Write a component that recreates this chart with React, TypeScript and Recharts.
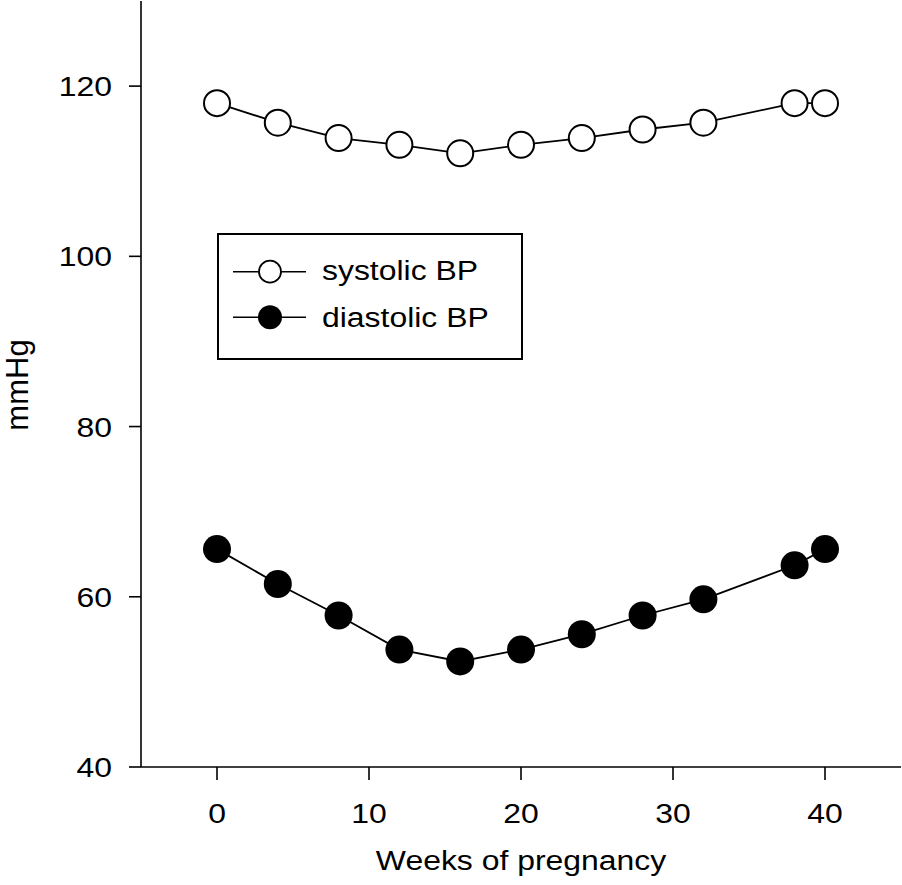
import React from 'react';
import { LineChart, Line, XAxis, YAxis, Legend } from 'recharts';

const weeks = [0, 4, 8, 12, 16, 20, 24, 28, 32, 38, 40];
const systolic = [118, 115.7, 113.9, 113.1, 112.1, 113.1, 113.9, 114.9, 115.7, 118, 118];
const diastolic = [65.6, 61.5, 57.8, 53.8, 52.4, 53.8, 55.6, 57.8, 59.7, 63.7, 65.6];
const xTicks = [0, 10, 20, 30, 40];
const yTicks = [40, 60, 80, 100, 120];
const seriesNames = ['systolic BP', 'diastolic BP'];
const xLabel = 'Weeks of pregnancy';
const yLabel = 'mmHg';

const data = weeks.map((w, i) => ({ week: w, systolic: systolic[i], diastolic: diastolic[i] }));

const FONT = '"Liberation Sans", Arial, Helvetica, sans-serif';
const SX = 1.14;
const FS = 28;

const YTick = (props: any) => {
  const { x, y, payload } = props;
  return (
    <text transform={`translate(${x},${y + 10}) scale(${SX},1)`} textAnchor="end" fontSize={FS} fontFamily={FONT} fill="#000">
      {payload.value}
    </text>
  );
};

const XTick = (props: any) => {
  const { x, y, payload } = props;
  return (
    <text transform={`translate(${x},${y + 20}) scale(${SX},1)`} textAnchor="middle" fontSize={FS} fontFamily={FONT} fill="#000">
      {payload.value}
    </text>
  );
};

const XLabel = (props: any) => {
  const vb = props.viewBox || {};
  const cx = (vb.x ?? 141) + (vb.width ?? 760) / 2;
  const by = (vb.y ?? 767) + 103;
  return (
    <text transform={`translate(${cx},${by}) scale(${SX},1)`} textAnchor="middle" fontSize={FS} fontFamily={FONT} fill="#000">
      {xLabel}
    </text>
  );
};

const YLabel = (props: any) => {
  const vb = props.viewBox || {};
  const cy = (vb.y ?? 1) + (vb.height ?? 766) / 2 + 1;
  return (
    <text transform={`translate(27.5,${cy}) rotate(-90)`} textAnchor="middle" fontSize={31} fontFamily={FONT} fill="#000">
      {yLabel}
    </text>
  );
};

const LegendBox = () => (
  <svg width={306} height={127} style={{ display: 'block' }}>
    <rect x={1} y={1} width={304} height={125} fill="#fff" stroke="#000" strokeWidth={2} />
    <line x1={16} x2={89} y1={38.7} y2={38.7} stroke="#000" strokeWidth={1.5} />
    <circle cx={53} cy={38.7} r={11} fill="#fff" stroke="#000" strokeWidth={1.8} />
    <text transform={`translate(105,46.5) scale(${SX},1)`} fontSize={FS} fontFamily={FONT} fill="#000">{seriesNames[0]}</text>
    <line x1={16} x2={89} y1={84.3} y2={84.3} stroke="#000" strokeWidth={1.5} />
    <circle cx={53} cy={84.3} r={12} fill="#000" />
    <text transform={`translate(105,94.3) scale(${SX},1)`} fontSize={FS} fontFamily={FONT} fill="#000">{seriesNames[1]}</text>
  </svg>
);

export default function App() {
  return (
    <div style={{ position: 'absolute', left: 0, top: 0, width: 902, height: 885, background: '#fff' }}>
      <LineChart width={902} height={885} data={data} margin={{ top: 1, right: 1, left: 0, bottom: 0 }}>
        <XAxis
          dataKey="week"
          type="number"
          domain={[-5, 45]}
          ticks={xTicks}
          height={118}
          tickSize={13}
          tickMargin={23}
          tick={<XTick />}
          axisLine={{ stroke: '#000', strokeWidth: 1.6 }}
          tickLine={{ stroke: '#000', strokeWidth: 1.6 }}
          label={<XLabel />}
          allowDataOverflow
        />
        <YAxis
          type="number"
          domain={[40, 130]}
          ticks={yTicks}
          width={141}
          tickSize={12}
          tickMargin={17}
          tick={<YTick />}
          axisLine={{ stroke: '#000', strokeWidth: 1.6 }}
          tickLine={{ stroke: '#000', strokeWidth: 1.6 }}
          label={<YLabel />}
        />
        <Legend
          layout="horizontal"
          verticalAlign="middle"
          align="center"
          content={() => <LegendBox />}
          wrapperStyle={{ position: 'absolute', left: 217, top: 233, width: 306, height: 127 }}
        />
        <Line
          type="linear"
          dataKey="systolic"
          name={seriesNames[0]}
          stroke="#000"
          strokeWidth={1.8}
          dot={{ r: 13, fill: '#fff', stroke: '#000', strokeWidth: 2 }}
          activeDot={false}
          isAnimationActive={false}
        />
        <Line
          type="linear"
          dataKey="diastolic"
          name={seriesNames[1]}
          stroke="#000"
          strokeWidth={1.8}
          dot={{ r: 14, fill: '#000', stroke: '#000', strokeWidth: 0 }}
          activeDot={false}
          isAnimationActive={false}
        />
      </LineChart>
    </div>
  );
}
